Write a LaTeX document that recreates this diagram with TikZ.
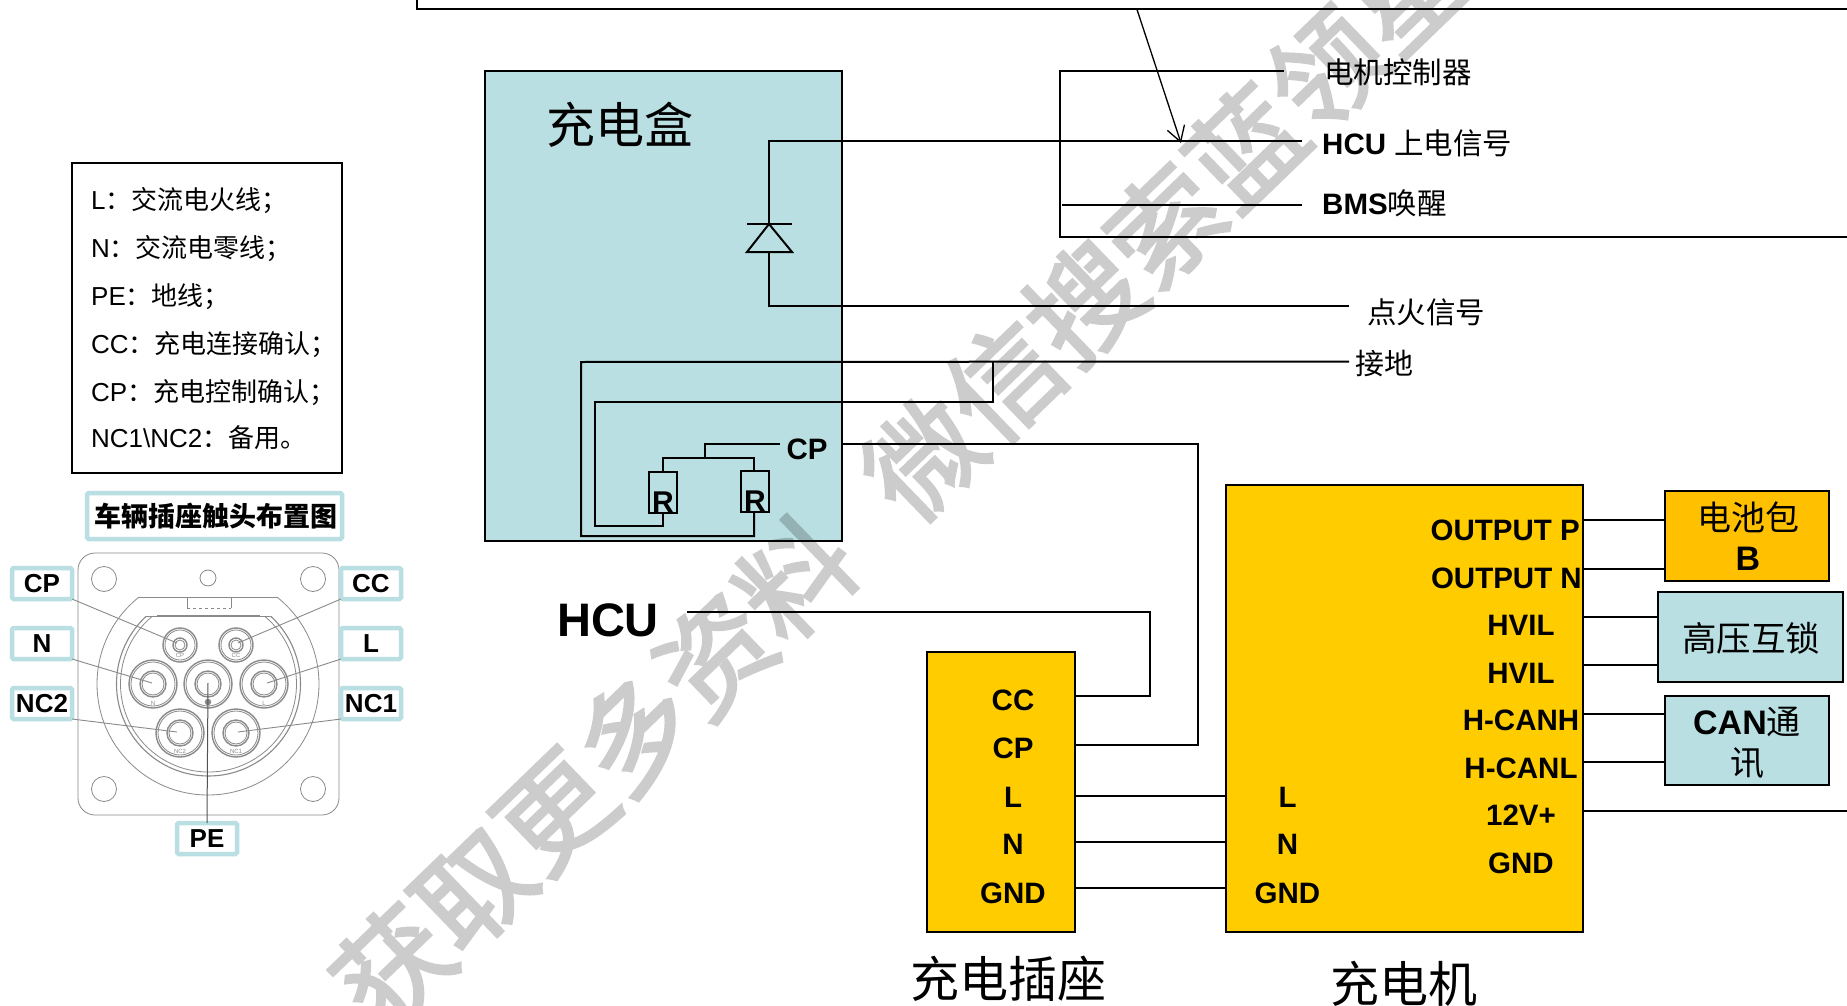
\documentclass[tikz,border=0pt]{standalone}
\usepackage{fontspec}
\usetikzlibrary{arrows.meta}
\setmainfont{Liberation Sans}
\newfontfamily\cjk{Noto Sans CJK SC}
\newfontfamily\wmfont[FakeBold=2.5]{Noto Sans CJK SC}
\newcommand\zh[1]{{\cjk\mdseries #1}}
\definecolor{boxblue}{HTML}{B9DFE2}
\definecolor{boxyellow}{HTML}{FFCC00}
\definecolor{boxorange}{HTML}{FFC000}
\definecolor{plate}{HTML}{8A8A8A}
\tikzset{
  wire/.style={draw=black,line width=2pt},
  latinlab/.style={inner sep=0pt,text height={0.716*#1 pt},text depth=0pt,font=\fontsize{#1}{#1}\selectfont\bfseries},
  regularlab/.style={inner sep=0pt,text height={0.716*#1 pt},text depth=0pt,font=\fontsize{#1}{#1}\selectfont},
  cjklab/.style={inner sep=0pt,text height={0.88*#1 pt},text depth={0.12*#1 pt},font=\fontsize{#1}{#1}\selectfont\cjk},
  rectbox/.style={draw=black,line width=2pt,inner sep=0pt,outer sep=0pt,anchor=north west},
  tagbox/.style={draw=boxblue,line width=4.5pt,rounded corners=1.5pt,fill=white,inner sep=0pt,outer sep=0pt,anchor=north west},
  platel/.style={draw=plate,line width=.8pt},
  ring/.style={draw=plate,line width=1.4pt},
  leader/.style={draw=plate,line width=.9pt},
  tiny/.style={inner sep=0pt,text=plate,font=\fontsize{6}{6}\selectfont},
  watermark/.style={inner sep=0pt,text=black,rotate=44,font=\fontsize{112}{112}\selectfont\wmfont},
}
\newcommand\pin[4]{% x, y, outer radius, inner radius
  \draw[ring] (#1,#2) circle (#3);
  \draw[platel] (#1,#2) circle (#3-2);
  \draw[ring] (#1,#2) circle (#4);
  \draw[platel] (#1,#2) circle (#4-2);
}
\begin{document}
\begin{tikzpicture}[x=1pt,y=-1pt]
\path[use as bounding box,clip] (0,0) rectangle (1847,1006);
\fill[white] (0,0) rectangle (1847,1006);

%% legend
\node[rectbox,minimum width=270pt,minimum height=310pt] (legend) at (72,163) {};
\node[regularlab=26,anchor=west] (leg1) at (91,200) {L{\cjk：交流电火线；}};
\node[regularlab=26,anchor=west] (leg2) at (91,248) {N{\cjk：交流电零线；}};
\node[regularlab=26,anchor=west] (leg3) at (91,296) {PE{\cjk：地线；}};
\node[regularlab=26,anchor=west] (leg4) at (91,344) {CC{\cjk：充电连接确认；}};
\node[regularlab=26,anchor=west] (leg5) at (91,392) {CP{\cjk：充电控制确认；}};
\node[regularlab=26,anchor=west] (leg6) at (91,438) {NC1\textbackslash NC2{\cjk：备用。}};

%% connector drawing
\draw[platel,rounded corners=17pt] (78,553) rectangle (339,815);
\foreach \hx/\hy in {104/579,313/579,104/789,313/789}
  \draw[platel] (\hx,\hy) circle (12.5);
\draw[platel] (208,578) circle (8);
\begin{scope}
  \clip (0,597) rectangle (420,900);
  \draw[platel] (208,684) circle (111);
\end{scope}
\draw[platel] (139,597) -- (277,597);
\draw[platel] (187,597) -- (187,608);
\draw[platel] (231,597) -- (231,608);
\draw[platel,dashed] (187,608) -- (231,608);
\begin{scope}
  \clip (0,616) rectangle (420,900);
  \draw[platel,line width=1.1pt] (208.5,684) circle (92);
  \draw[platel] (208.5,684) circle (88);
\end{scope}
\draw[ring,line width=1.8pt] (157,616) -- (260,616);
\draw[platel] (146,616) -- (157,616) (260,616) -- (270,616);
\pin{180}{645}{17}{7}
\pin{236}{645}{17}{7}
\pin{153}{684}{24}{13}
\pin{208}{684}{24}{13}
\pin{264}{684}{24}{13}
\pin{180}{733}{24}{13}
\pin{236}{733}{24}{13}
\draw[ring,fill=plate] (208,702) circle (2.5);
\node[tiny] (tp1) at (180,655) {CP};
\node[tiny] (tp2) at (236,655) {CC};
\node[tiny] (tp3) at (153,703) {N};
\node[tiny] (tp4) at (264,703) {L};
\node[tiny] (tp5) at (180,751) {NC2};
\node[tiny] (tp6) at (236,751) {NC1};

\coordinate (pCP) at (177,643);
\coordinate (pCC) at (238,643);
\coordinate (pN)  at (152,683);
\coordinate (pL)  at (267,683);
\coordinate (pNC2) at (177,732);
\coordinate (pNC1) at (238,732);
\coordinate (pPE) at (208,683);

\node[tagbox,minimum width=255pt,minimum height=46pt] (ttl) at (87,493) {};
\node[cjklab=27] (ttltxt) at (215.5,516) {\bfseries 车辆插座触头布置图};
\node[tagbox,minimum width=60pt,minimum height=31pt] (tCP) at (12,568) {};
\node[tagbox,minimum width=60pt,minimum height=31pt] (tN) at (12,628) {};
\node[tagbox,minimum width=60pt,minimum height=31pt] (tNC2) at (12,688) {};
\node[tagbox,minimum width=60pt,minimum height=31pt] (tCC) at (341,568) {};
\node[tagbox,minimum width=60pt,minimum height=31pt] (tL) at (341,628) {};
\node[tagbox,minimum width=60pt,minimum height=31pt] (tNC1) at (341,688) {};
\node[tagbox,minimum width=60pt,minimum height=31pt] (tPE) at (177,823) {};
\node[latinlab=26] (ltCP) at (tCP) {CP};
\node[latinlab=26] (ltN) at (tN) {N};
\node[latinlab=26] (ltNC2) at (tNC2) {NC2};
\node[latinlab=26] (ltCC) at (tCC) {CC};
\node[latinlab=26] (ltL) at (tL) {L};
\node[latinlab=26] (ltNC1) at (tNC1) {NC1};
\node[latinlab=26] (ltPE) at (tPE) {PE};
\draw[leader] (tCP.south east) -- (pCP);
\draw[leader] (tCC.south west) -- (pCC);
\draw[leader] (tN.south east) -- (pN);
\draw[leader] (tL.south west) -- (pL);
\draw[leader] (tNC2.south east) -- (pNC2);
\draw[leader] (tNC1.south west) -- (pNC1);
\draw[draw=plate!60!black,line width=1pt] (tPE.north) -- (pPE);

%% charging box
\node[rectbox,fill=boxblue,minimum width=357pt,minimum height=470pt] (hbox) at (485,71) {};
\node[cjklab=49] (hboxt) at (620,125) {充电盒};
\coordinate (d1) at (769,141);
\coordinate (sigHCU) at (1302,141);
\coordinate (dTop) at (769,224);
\coordinate (dBase) at (769,252);
\coordinate (d2) at (769,306);
\coordinate (sigIgn) at (1349,306);
\draw[wire] (sigHCU) -- (d1) -- (dTop);
\draw[wire] (747,224) -- (792,224);
\draw[wire] (dTop) -- (792,252) -- (747,252) -- cycle;
\draw[wire] (dBase) -- (d2) -- (sigIgn);

\node[rectbox,minimum width=28pt,minimum height=41pt] (r1) at (649,472) {};
\node[rectbox,minimum width=28pt,minimum height=41pt] (r2) at (741,471) {};
\node[latinlab=30,anchor=south] (r1t) at (663,513) {R};
\node[latinlab=30,anchor=south] (r2t) at (755,512) {R};
\coordinate (gnd) at (1349,361.5);
\coordinate (outerTL) at (581,362);
\coordinate (outerBL) at (581,536);
\coordinate (outerBR) at (754,536);
\coordinate (innerTL) at (595,401.5);
\coordinate (innerBL) at (595,526);
\coordinate (innerBR) at (663,526);
\coordinate (innerTR) at (993,401.5);
\coordinate (gndJ) at (993,361.5);
\draw[wire] (gnd) -- (outerTL) -- (outerBL) -- (outerBR) -- (r2.south -| outerBR);
\draw[wire] (gndJ) -- (innerTR) -- (innerTL) -- (innerBL) -- (innerBR) -- (r1.south -| innerBR);
\coordinate (rr1) at (663,458);
\coordinate (rr2) at (754,458);
\coordinate (rrM) at (705,458);
\coordinate (cpBend) at (705,444);
\node[latinlab=29.5] (cpLab) at (807,449) {CP};
\draw[wire] (r1.north -| rr1) -- (rr1) -- (rr2) -- (r2.north -| rr2);
\draw[wire] (rrM) -- (cpBend) -- (780,444);

%% top lines and signal labels
\coordinate (topL) at (417,0);
\coordinate (topC) at (417,9.5);
\coordinate (topR) at (1847,9.5);
\draw[wire] (topL) -- (topC) -- (topR);
\coordinate (arrS) at (1137,9.5);
\coordinate (arrE) at (1181,143);
\draw[draw=black,line width=1.3pt,-{Straight Barb[length=15pt,width=18pt]}] (arrS) -- (arrE);
\coordinate (m1) at (1284,71);
\coordinate (m2) at (1059.5,71);
\coordinate (m3) at (1059.5,237);
\coordinate (m4) at (1847,237);
\draw[wire] (m1) -- (m2) -- (m3) -- (m4);
\coordinate (b1) at (1062,205);
\coordinate (b2) at (1302,205);
\draw[wire] (b1) -- (b2);
\node[cjklab=29.5,anchor=west] (lMot) at (1324,72) {电机控制器};
\node[latinlab=29.5,anchor=west] (lHcu) at (1322,144) {HCU \zh{上电信号}};
\node[latinlab=29.5,anchor=west] (lBms) at (1322,204) {BMS\zh{唤醒}};
\node[cjklab=29.5,anchor=west] (lIgn) at (1367,312) {点火信号};
\node[cjklab=29,anchor=west] (lGnd) at (1355,363) {接地};

%% HCU
\node[latinlab=47] (hcu) at (608,620) {HCU};

%% charging socket
\node[rectbox,fill=boxyellow,minimum width=148pt,minimum height=279.5pt] (sock) at (927,652) {};
\node[latinlab=29.5] (sCC) at (1013,700) {CC};
\node[latinlab=29.5] (sCP) at (1013,748) {CP};
\node[latinlab=29.5] (sL) at (1013,796.5) {L};
\node[latinlab=29.5] (sN) at (1013,844) {N};
\node[latinlab=29.5] (sG) at (1013,893) {GND};
\node[cjklab=49] (sockt) at (1008,979) {充电插座};

%% charger
\node[rectbox,fill=boxyellow,minimum width=357pt,minimum height=446.5pt] (chg) at (1226,485) {};
\node[latinlab=29.5] (cL) at (1287.5,796.5) {L};
\node[latinlab=29.5] (cN) at (1287.5,844) {N};
\node[latinlab=29.5] (cG) at (1287.5,893) {GND};
\node[latinlab=29.5,anchor=east] (cOP) at (1580,530) {OUTPUT P};
\node[latinlab=29.5,anchor=east] (cON) at (1582,578) {OUTPUT N};
\node[latinlab=29.5] (cH1) at (1521,625) {HVIL};
\node[latinlab=29.5] (cH2) at (1521,673) {HVIL};
\node[latinlab=29.5] (cCH) at (1521,720) {H-CANH};
\node[latinlab=29.5] (cCL) at (1521,768) {H-CANL};
\node[latinlab=29.5] (c12) at (1521,815) {12V+};
\node[latinlab=29.5] (cGd) at (1521,863) {GND};
\node[cjklab=49] (chgt) at (1404,984) {充电机};

%% right boxes
\node[rectbox,fill=boxorange,minimum width=164.5pt,minimum height=90pt] (batt) at (1664.5,491) {};
\node[cjklab=34] (battA) at (1748,518) {电池包};
\node[latinlab=34] (battB) at (1748,558) {B};
\node[rectbox,fill=boxblue,minimum width=185pt,minimum height=90pt] (hvil) at (1658,592) {};
\node[cjklab=34.5] (hvilt) at (1751,638) {高压互锁};
\node[rectbox,fill=boxblue,minimum width=164.5pt,minimum height=89pt] (can) at (1664.5,696) {};
\node[latinlab=34] (canA) at (1747,722) {CAN\zh{通}};
\node[cjklab=34] (canB) at (1747,763) {讯};

%% wires between boxes
\draw[wire] (chg.east |- 0,520) -- (batt.west |- 0,520);
\draw[wire] (chg.east |- 0,569) -- (batt.west |- 0,569);
\draw[wire] (chg.east |- 0,617) -- (hvil.west |- 0,617);
\draw[wire] (chg.east |- 0,665) -- (hvil.west |- 0,665);
\draw[wire] (chg.east |- 0,714) -- (can.west |- 0,714);
\draw[wire] (chg.east |- 0,762) -- (can.west |- 0,762);
\coordinate (v12) at (1847,811);
\draw[wire] (chg.east |- v12) -- (v12);
\draw[wire] (sock.east |- 0,796) -- (chg.west |- 0,796);
\draw[wire] (sock.east |- 0,841.5) -- (chg.west |- 0,841.5);
\draw[wire] (sock.east |- 0,888) -- (chg.west |- 0,888);
\coordinate (hcuS) at (686.5,612);
\coordinate (hcuB) at (1150,612);
\coordinate (hcuC) at (1150,696);
\draw[wire] (hcuS) -- (hcuB) -- (hcuC) -- (sock.east |- hcuC);
\coordinate (cpB) at (1198,444);
\coordinate (cpC) at (1198,744.5);
\draw[wire] (hbox.east |- cpB) -- (cpB) -- (cpC) -- (sock.east |- cpC);

%% watermark
\begin{scope}[transparency group,opacity=.2]
\node[watermark] (wm1) at (594,772) {获取更多资料};
\node[watermark] (wm2) at (1165,225) {微信搜索蓝领星};
\end{scope}
\end{tikzpicture}
\end{document}
